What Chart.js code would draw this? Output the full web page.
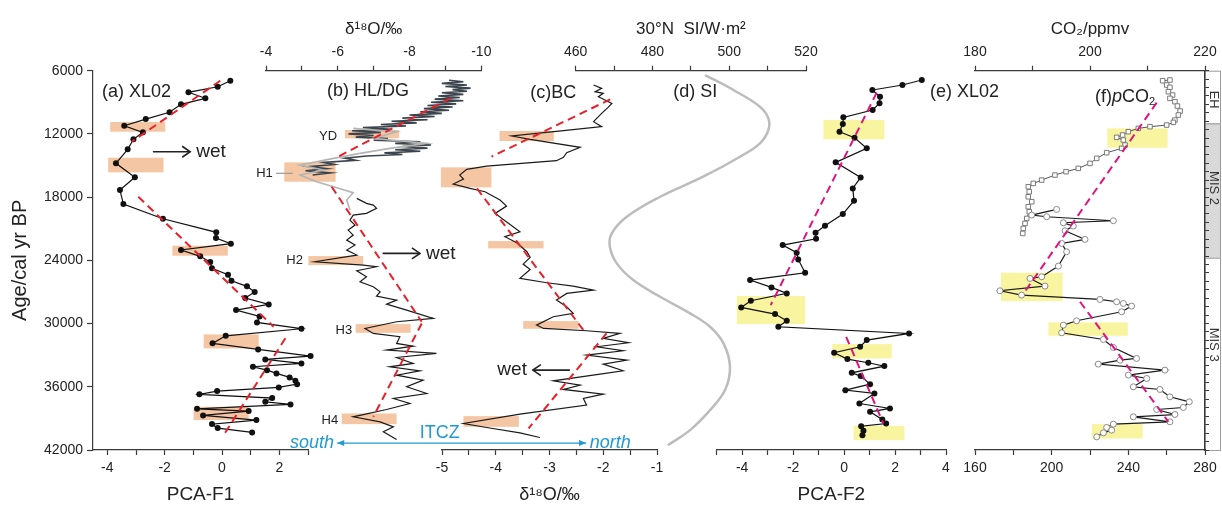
<!DOCTYPE html>
<html>
<head>
<meta charset="utf-8">
<script src="https://cdn.jsdelivr.net/npm/chart.js@4.4.1/dist/chart.umd.min.js"></script>
<style>
body{margin:0;background:#fff}
#wrap{position:relative;width:1222px;height:506px;background:#fff}
#wrap canvas{position:absolute;left:0;top:0}
</style>
</head>
<body>
<div id="wrap">
<canvas id="pa" width="1222" height="506"></canvas>
<canvas id="pb" width="1222" height="506"></canvas>
<canvas id="pc" width="1222" height="506"></canvas>
<canvas id="pd" width="1222" height="506"></canvas>
<canvas id="pe" width="1222" height="506"></canvas>
<canvas id="pf" width="1222" height="506"></canvas>
</div>
<script>
// ---- age axis (shared) ----
var yTicks = [6000, 12000, 18000, 24000, 30000, 36000, 42000]
var rightTicks = [6000,6800,7600,8400,9200,10000,10800,11600,12400,13200,14000,14800,15600,16400,17200,18000,18800,19600,20400,21200,22000,22800,23600,24400,25200,26000,26800,27600,28400,29200,30000,30800,31600,32400,33200,34000,34800,35600,36400,37200,38000,38800,39600,40400,41200,42000]

// ---- (a) XL02 PCA-F1 ----
var aTicks = [-4, -3, -2, -1, 0, 1, 2, 3]
var aLabels = [-4, -2, 0, 2]
var aAge = [6950,7520,8050,8620,9190,9950,10590,11220,11850,12510,13460,14790,16120,17330,18660,20050,21340,21880,22420,23020,23620,24160,24760,25370,25940,26470,27010,27580,28180,28720,29320,29890,30490,31160,31880,32450,33090,33400,33780,34100,34420,34730,35110,35430,35750,36060,36410,36720,37070,37420,37670,38090,38310,38720,39160,39540,39920,40330]
var aF1 = [0.29,-0.15,-1.17,-0.58,-1.43,-1.83,-2.66,-3.41,-2.76,-3.09,-3.29,-3.70,-3.04,-3.56,-3.44,-2.06,-0.20,-0.21,0.31,-1.43,-0.76,-0.41,-0.35,0.21,0.33,0.87,1.14,0.81,1.63,0.49,1.31,1.22,2.77,0.13,-0.33,1.26,3.09,1.51,2.77,1.08,1.57,1.90,2.36,2.56,2.62,1.98,-0.17,-0.79,1.75,1.51,2.39,-0.87,0.93,-0.66,1.20,-0.35,-0.15,1.05]
var aTrendX = [[-0.06, -3.15], [-2.92, 1.80], [2.21, 0.08]]
var aTrendAge = [[6950, 12740], [17960, 30300], [31400, 40490]]
var aBoxX = [[-3.90, -1.98], [-3.97, -2.04], [-1.73, 0.20], [-0.64, 1.28], [-0.99, 0.93]]
var aBoxAge = [[10870, 11790], [14260, 15650], [22610, 23560], [31030, 32360], [37900, 39160]]

// ---- (b) HL/DG d18O ----
var bTicks = [-4, -5, -6, -7, -8, -9, -10]
var bLabels = [-4, -6, -8, -10]
var bHLAge = [6900,7050,7200,7350,7500,7650,7800,7950,8100,8250,8400,8550,8700,8850,9000,9150,9300,9450,9600,9750,9900,10050,10200,10350,10500,10650,10800,10950,11100,11250,11400,11550,11700,11850,12000,12150,12300,12450,12600,12750,12900,13050,13200,13350,13500,13650,13800,13950,14100,14300,14500,14700,14900,15100,15300,15500,15700,15900]
var bHL = [-9.1,-9.5,-8.9,-9.6,-9.0,-9.7,-9.2,-9.6,-8.9,-9.5,-8.8,-9.4,-8.7,-9.5,-8.6,-9.3,-8.5,-9.2,-8.4,-9.1,-8.3,-8.9,-8.0,-8.7,-7.8,-8.5,-7.5,-8.2,-7.2,-7.9,-6.7,-7.5,-6.4,-7.2,-6.3,-7.0,-6.5,-7.4,-7.0,-8.3,-7.6,-8.6,-7.8,-8.5,-7.6,-8.3,-7.3,-7.8,-6.8,-6.2,-6.5,-5.6,-5.9,-5.2,-5.7,-5.1,-5.8,-5.3]
var bDGAge = [11473,11790,12423,12898,13372,13847,14322,14955,15430,15905,16537,17012,17582,18278,19227]
var bDG = [-6.43,-7.64,-6.99,-8.48,-7.45,-6.62,-5.88,-4.95,-5.60,-4.95,-5.41,-5.88,-6.43,-6.25,-6.34]
var bBlkAge = [18120,18594,18753,19070,19544,19702,20177,20652,21126,21601,22076,22550,23025,23500,24133,24450,24608,24988,25558,26032,26507,26982,27393,27773,28153,28722,29514,29830,30463,30938,31254,31887,32140,32520,32837,33217,33786,34103,34483,34894,35369,36002,36635,37110,37585,38154,38850,39325,39800,40275,41003]
var bBlk = [-6.53,-6.80,-6.99,-7.08,-6.80,-6.43,-6.34,-6.48,-6.29,-6.43,-6.25,-6.48,-6.25,-6.53,-5.36,-6.71,-7.08,-6.53,-6.80,-6.62,-6.99,-7.18,-7.08,-7.64,-7.36,-7.92,-8.66,-7.64,-6.76,-6.99,-7.73,-7.64,-8.10,-7.36,-8.75,-7.64,-8.10,-7.45,-8.29,-7.64,-8.38,-7.92,-8.48,-7.55,-8.01,-7.36,-6.43,-7.18,-7.55,-7.27,-7.64]
var bTrendX = [[-9.13, -6.01], [-5.83, -8.34], [-8.34, -6.99]]
var bTrendAge = [[8625, 14164], [17012, 29830], [29988, 38850]]
var bBoxX = [[-6.20, -7.71], [-4.51, -5.94], [-5.18, -6.71], [-6.50, -8.03], [-6.11, -7.64]]
var bBoxAge = [[11632, 12423], [14702, 16537], [23595, 24450], [30052, 30875], [38534, 39547]]

// ---- (c) BC d18O ----
var cTicks = [-5, -4.5, -4, -3.5, -3, -2.5, -2, -1.5, -1]
var cLabels = [-5, -4, -3, -2, -1]
var cAge = [7358,7674,7991,8149,8466,9099,9478,10048,10839,11314,11694,12200,12517,13276,13783,14226,14542,15049,15365,15903,16283,16758,17169,17486,18277,18847,19543,20113,21284,21759,22329,23183,23721,24354,24860,25715,26126,26443,26823,27139,27772,28405,29038,29355,30146,30462,30684,30937,31412,31823,32203,32583,32995,33469,33849,34482,34798,35431,35843,36254,36697,37109,37742,38596,39483,39863,40369,40812]
var cBC = [-2.18,-2.03,-2.15,-2.00,-2.09,-1.84,-1.91,-2.03,-2.18,-2.03,-2.74,-3.70,-3.36,-2.43,-2.68,-2.74,-2.87,-4.17,-4.54,-4.67,-4.60,-4.79,-4.48,-4.20,-3.92,-3.80,-4.01,-3.86,-3.55,-3.83,-3.61,-3.42,-3.36,-3.49,-3.36,-3.55,-3.05,-2.56,-2.18,-2.68,-2.87,-2.68,-2.56,-2.93,-3.24,-3.11,-2.31,-1.69,-2.00,-1.53,-2.12,-1.63,-2.31,-1.56,-2.00,-1.63,-2.06,-2.93,-2.43,-2.74,-2.00,-2.37,-2.31,-3.55,-4.60,-4.17,-3.55,-3.18]
var cTrendX = [[-1.87, -4.08], [-4.35, -2.37], [-1.94, -3.39]]
var cTrendAge = [[8719, 14163], [17169, 30621], [30937, 39958]]
var cBoxX = [[-3.93, -2.92], [-5.02, -4.08], [-4.14, -3.11], [-3.49, -2.46], [-4.60, -3.57]]
var cBoxAge = [[11725, 12675], [15175, 17074], [22170, 22866], [29766, 30494], [38786, 39799]]

// ---- (d) 30N summer insolation ----
var dTicks = [460, 470, 480, 490, 500, 510, 520]
var dLabels = [460, 480, 500, 520]
var dAge = [6412,7832,9418,10519,11630,12893,14165,16064,17963,19862,21437,22709,24285,25871,27456,29035,30307,31883,34098,36314,38213,40112,41550]
var dSI = [493.7,501.1,508.0,510.2,510.2,508.0,502.8,493.2,482.0,473.3,469.4,468.9,470.7,475.0,482.0,489.8,495.0,498.5,500.2,498.9,495.0,489.8,484.0]

// ---- (e) XL02 PCA-F2 ----
var eTicks = [-5, -4, -3, -2, -1, 0, 1, 2, 3, 4]
var eLabels = [-4, -2, 0, 2, 4]
var eAge = [6883,7358,7833,8466,9099,9731,10428,11061,11789,12358,13371,14701,16125,17169,18340,19606,20714,21379,21948,22550,23278,23911,25176,25873,26569,27139,27835,28468,29101,29734,30304,30937,31570,32203,32773,33374,33722,34039,34672,34988,35748,36318,36634,37584,38058,38375,39103,39483,39736,40179,40590]
var eF2 = [3.05,2.29,1.11,1.41,1.39,1.12,-0.03,-0.05,-0.18,0.41,0.89,-0.33,0.65,0.34,0.39,-0.05,-0.75,-1.12,-1.10,-2.41,-1.86,-1.80,-1.53,-3.69,-2.85,-2.25,-3.66,-4.04,-2.71,-2.25,-2.58,2.55,0.89,0.63,-0.39,0.13,0.95,1.58,0.30,0.65,1.02,0.05,1.19,0.60,1.80,1.02,1.50,1.65,0.67,0.76,0.72]
var eTrendX = [[1.28, -2.88], [0.08, 1.54]]
var eTrendAge = [[8086, 28247], [31254, 39483]]
var eBoxX = [[-0.81, 1.58], [-4.21, -1.53], [-0.46, 1.87], [0.37, 2.37]]
var eBoxAge = [[10681, 12517], [27392, 30050], [31950, 33311], [39704, 41065]]

// ---- (f) pCO2 ----
var fTicks = [160, 180, 200, 220, 240, 260, 280]
var fLabels = [160, 200, 240, 280]
var fTopTicks = [180, 190, 200, 210, 220]
var fTopLabels = [180, 200, 220]
var fIceAge = [6884,6947,7359,7580,7992,8308,8625,8941,9353,9827,10207,10682,10904,11157,11315,11473,11790,12106,12328,12581,13056,13372,13784,14322,14797,15271,15588,15905,16379,16696,17012,17487,17962,18436,18911,19386,20019,20494,20968,21443]
var fIce = [261.7,257.9,260.0,261.7,260.9,263.1,261.7,264.3,265.6,267.0,266.1,264.3,263.5,260.0,251.3,245.2,240.0,237.0,233.9,237.4,238.3,236.5,228.7,223.5,220.0,213.9,207.5,201.7,194.8,190.4,187.8,188.3,187.8,189.6,187.8,188.3,187.0,186.1,185.2,184.9]
var fXLAge = [19164,19702,19861,20240,20430,20747,21190,22013,22392,23184,24545,25558,25716,26444,26887,27298,27710,27932,28090,28343,28881,29735,30147,30875,31508,32268,33312,33470,33850,34420,34894,35211,36002,36255,36952,37426,37964,38154,38629,38850,39325,39547,39864,40117,40370,40750]
var fXL = [202.6,189.6,197.4,232.2,206.1,211.3,207.0,217.4,205.2,207.8,203.5,194.8,188.7,196.5,173.0,184.3,225.2,233.9,237.4,241.7,236.5,213.0,206.1,205.2,227.0,232.2,244.3,235.7,224.3,259.1,240.0,249.6,242.6,256.5,261.7,271.8,268.7,254.8,264.3,242.6,261.7,232.2,228.7,231.3,227.0,223.5]
var fTrendX = [[254.8, 185.6], [214.8, 260.9]]
var fTrendAge = [[9036, 27077], [27932, 39325]]
var fBoxX = [[229.0, 260.5], [173.6, 205.7], [198.3, 239.7], [220.9, 247.5]]
var fBoxAge = [[11473, 13309], [25178, 27868], [29894, 31160], [39547, 40908]]

// MIS column
var misNames = ['EH', 'MIS 2', 'MIS 3']
var misAge = [[6000, 11000], [11000, 23750], [23750, 42000]]
var misMid = [8750, 17140, 32000]

// ---------------------------------------------------------------
var W = 1222, TOP_H = 70.7, BOT_H = 56
var FONT = "'Liberation Sans', Arial, 'DejaVu Sans', sans-serif"
var AXC = '#3a3a3a'
var RED = '#e8202a', MAG = '#e0147f', ORANGE = '#f5c6a3', YELLOW = '#f9f49f', BLUE = '#1e9ad6'

function labelFn(list){
    return function(v){ return list.indexOf(v) >= 0 ? String(v) : '' }
}

function hAxis(pos, min, max, ticks, labels, title, reverse, titleSize){
    var show = ticks != null
    return {
        type: 'linear', position: pos, min: min, max: max, reverse: !!reverse,
        border: {display: show, color: AXC, width: 1.2},
        grid: {display: show, drawOnChartArea: false, tickLength: 5, tickColor: AXC, tickWidth: 1.2},
        ticks: {display: show, autoSkip: false, maxRotation: 0, padding: 5, color: '#222',
                font: {family: FONT, size: 14}, callback: labels ? labelFn(labels) : undefined},
        title: {display: !!title, text: title || '', color: '#222',
                font: {family: FONT, size: titleSize || 17},
                padding: pos == 'top' ? {top: 19, bottom: 0} : {top: 0, bottom: 0}},
        afterBuildTicks: function(s){ if (show) s.ticks = ticks.map(function(v){ return {value: v} }) },
        afterFit: function(s){ s.height = pos == 'top' ? TOP_H : BOT_H; s.paddingLeft = 0; s.paddingRight = 0 }
    }
}

function yAxis(show){
    return {
        type: 'linear', position: 'left', min: 6000, max: 42000, reverse: true, display: show,
        border: {color: AXC, width: 1.2},
        grid: {drawOnChartArea: false, tickLength: 6, tickColor: AXC, tickWidth: 1.2},
        ticks: {padding: 4, color: '#222', font: {family: FONT, size: 14}, callback: function(v){ return String(v) }},
        title: {display: true, text: 'Age/cal yr BP', color: '#222', font: {family: FONT, size: 20}, padding: {top: 8, bottom: 0}},
        afterBuildTicks: function(s){ s.ticks = yTicks.map(function(v){ return {value: v} }) },
        afterFit: function(s){ s.width = show ? 93 : 0; s.paddingTop = 0; s.paddingBottom = 0 }
    }
}

function pts(xs, ages){
    return xs.map(function(v, i){ return {x: v, y: ages[i]} })
}

function series(xs, ages, opt){
    var d = {data: pts(xs, ages), showLine: true, borderColor: '#111', borderWidth: 1.2,
             pointRadius: 0, clip: false}
    for (var k in opt) d[k] = opt[k]
    return d
}

function trends(tx, tage, col){
    return tx.map(function(seg, i){
        return series(seg, tage[i], {borderColor: col, borderWidth: 2, borderDash: [8, 5]})
    })
}

// ---- decoration: boxes, arrows, labels ----
function fontOf(s, size){
    var sz = (s.sub || s.sup) ? Math.round(size * 0.62) : size
    return (s.italic ? 'italic ' : '') + sz + 'px ' + FONT
}
function rich(c, segs, x, y, align, size, color){
    var w = 0
    segs.forEach(function(s){ c.font = fontOf(s, size); w += c.measureText(s.t).width })
    var cx = align == 'right' ? x - w : (align == 'center' ? x - w / 2 : x)
    c.fillStyle = color || '#222'
    c.textAlign = 'left'; c.textBaseline = 'middle'
    segs.forEach(function(s){
        c.font = fontOf(s, size)
        var dy = s.sub ? size * 0.3 : (s.sup ? -size * 0.35 : 0)
        c.fillText(s.t, cx, y + dy)
        cx += c.measureText(s.t).width
    })
}
function arrow(c, x1, y, x2, col, lw, kind){
    c.strokeStyle = col; c.fillStyle = col; c.lineWidth = lw
    c.beginPath(); c.moveTo(x1, y); c.lineTo(x2, y); c.stroke()
    var dir = x2 > x1 ? 1 : -1
    if (kind == 'open'){
        c.beginPath(); c.moveTo(x2 - dir * 8, y - 5.5); c.lineTo(x2, y); c.lineTo(x2 - dir * 8, y + 5.5); c.stroke()
    } else {
        [[x2, dir], [x1, -dir]].forEach(function(p){
            c.beginPath(); c.moveTo(p[0], y); c.lineTo(p[0] - p[1] * 7, y - 3); c.lineTo(p[0] - p[1] * 7, y + 3); c.closePath(); c.fill()
        })
    }
}

function decoPlugin(d){
    return {
        id: 'deco',
        beforeDraw: function(chart){
            if (!d.mis) return
            var c = chart.ctx, ys = chart.scales.y, x0 = chart.chartArea.right, w = 16
            c.save()
            misAge.forEach(function(r, i){
                var y1 = ys.getPixelForValue(r[0]), y2 = ys.getPixelForValue(r[1])
                c.fillStyle = i == 1 ? '#d9d9d9' : '#fff'
                c.fillRect(x0, y1, w, y2 - y1)
                c.strokeStyle = '#9a9a9a'; c.lineWidth = 1
                c.strokeRect(x0 + 0.5, y1 + 0.5, w - 1, y2 - y1)
                c.save()
                c.translate(x0 + w / 2 + 0.5, ys.getPixelForValue(misMid[i]))
                c.rotate(Math.PI / 2)
                c.fillStyle = '#333'; c.font = '13px ' + FONT
                c.textAlign = 'center'; c.textBaseline = 'middle'
                c.fillText(misNames[i], 0, 0)
                c.restore()
            })
            c.restore()
        },
        beforeDatasetsDraw: function(chart){
            var c = chart.ctx, xs = chart.scales.x, ys = chart.scales.y
            c.save()
            c.fillStyle = d.boxColor
            ;(d.boxX || []).forEach(function(b, i){
                var x1 = xs.getPixelForValue(b[0]), x2 = xs.getPixelForValue(b[1])
                var y1 = ys.getPixelForValue(d.boxAge[i][0]), y2 = ys.getPixelForValue(d.boxAge[i][1])
                c.fillRect(Math.min(x1, x2), Math.min(y1, y2), Math.abs(x2 - x1), Math.abs(y2 - y1))
            })
            c.restore()
        },
        afterDatasetsDraw: function(chart){
            var c = chart.ctx, xs = chart.scales.x, ys = chart.scales.y
            c.save()
            ;(d.lines || []).forEach(function(l){
                var y = ys.getPixelForValue(l.age)
                c.strokeStyle = l.color; c.lineWidth = 1.2
                c.beginPath(); c.moveTo(xs.getPixelForValue(l.x1), y); c.lineTo(xs.getPixelForValue(l.x2), y); c.stroke()
            })
            ;(d.arrows || []).forEach(function(a){
                arrow(c, xs.getPixelForValue(a.x1), ys.getPixelForValue(a.age), xs.getPixelForValue(a.x2),
                      a.color || '#222', a.width || 1.6, a.kind || 'open')
            })
            ;(d.notes || []).forEach(function(n){
                rich(c, n.segs, xs.getPixelForValue(n.x), ys.getPixelForValue(n.age), n.align || 'left', n.size || 18, n.color)
            })
            c.restore()
        }
    }
}

function panel(id, left, right, scales, datasets, deco){
    return new Chart(document.getElementById(id), {
        type: 'scatter',
        data: {datasets: datasets},
        options: {
            responsive: false, animation: false, devicePixelRatio: 1, events: [],
            layout: {autoPadding: false, padding: {left: left, right: W - right, top: 0, bottom: 0}},
            plugins: {legend: {display: false}, tooltip: {enabled: false}},
            scales: scales
        },
        plugins: [decoPlugin(deco)]
    })
}

var dots = {pointRadius: 3, pointBackgroundColor: '#111', pointBorderWidth: 0}

// (a)
panel('pa', 0, 308, {
    x: hAxis('bottom', -4.5, 3, aTicks, aLabels, 'PCA-F1', false, 19),
    x2: hAxis('top', 0, 1, null),
    y: yAxis(true)
}, trends(aTrendX, aTrendAge, RED).concat([series(aF1, aAge, dots)]), {
    boxColor: ORANGE, boxX: aBoxX, boxAge: aBoxAge,
    arrows: [{x1: -2.41, x2: -1.11, age: 13690}],
    notes: [
        {segs: [{t: '(a) XL02'}], x: -4.19, age: 8050, size: 18},
        {segs: [{t: 'wet'}], x: -0.90, age: 13690, size: 19}
    ]
})

// (b)
panel('pb', 266, 481.3, {
    x: hAxis('top', -10, -4, bTicks, bLabels, 'δ¹⁸O/‰', true),
    x2: hAxis('bottom', 0, 1, null),
    y: yAxis(false)
}, trends(bTrendX, bTrendAge, RED).concat([
    series(bBlk, bBlkAge, {borderColor: '#1a1a1a', borderWidth: 1.2}),
    series(bDG, bDGAge, {borderColor: '#b4b4b4', borderWidth: 1.6}),
    series(bHL, bHLAge, {borderColor: '#3b444c', borderWidth: 1.6})
]), {
    boxColor: ORANGE, boxX: bBoxX, boxAge: bBoxAge,
    lines: [{x1: -4.28, x2: -4.75, age: 15740, color: '#9a9a9a'}],
    arrows: [{x1: -7.25, x2: -8.29, age: 23340}],
    notes: [
        {segs: [{t: '(b) HL/DG'}], x: -5.70, age: 7900, size: 18},
        {segs: [{t: 'YD'}], x: -5.98, age: 12200, size: 13, align: 'right'},
        {segs: [{t: 'H1'}], x: -4.19, age: 15740, size: 13, align: 'right'},
        {segs: [{t: 'H2'}], x: -5.03, age: 23970, size: 13, align: 'right'},
        {segs: [{t: 'H3'}], x: -6.40, age: 30624, size: 13, align: 'right'},
        {segs: [{t: 'H4'}], x: -6.01, age: 39228, size: 13, align: 'right'},
        {segs: [{t: 'wet'}], x: -8.46, age: 23340, size: 19}
    ]
})

// (c)
panel('pc', 442, 657, {
    x: hAxis('bottom', -5, -1, cTicks, cLabels, 'δ¹⁸O/‰', false, 18),
    x2: hAxis('top', 0, 1, null),
    y: yAxis(false)
}, trends(cTrendX, cTrendAge, RED).concat([series(cBC, cAge, {borderColor: '#1a1a1a', borderWidth: 1.2})]), {
    boxColor: ORANGE, boxX: cBoxX, boxAge: cBoxAge,
    arrows: [
        {x1: -2.62, x2: -3.31, age: 34416},
        {x1: -6.95, x2: -2.32, age: 41346, color: BLUE, width: 1.3, kind: 'double'}
    ],
    notes: [
        {segs: [{t: '(c)BC'}], x: -3.36, age: 8146, size: 18},
        {segs: [{t: 'wet'}], x: -3.42, age: 34416, size: 19, align: 'right'},
        {segs: [{t: 'ITCZ'}], x: -5.04, age: 40397, size: 18, align: 'center', color: BLUE},
        {segs: [{t: 'south', italic: true}], x: -7.01, age: 41346, size: 18, align: 'right', color: BLUE},
        {segs: [{t: 'north', italic: true}], x: -2.25, age: 41346, size: 18, color: BLUE}
    ]
})

// (d)
panel('pd', 575.7, 806, {
    x: hAxis('top', 460, 520, dTicks, dLabels, '30°N  SI/W·m²'),
    x2: hAxis('bottom', 0, 1, null),
    y: yAxis(false)
}, [series(dSI, dAge, {borderColor: '#bcbcbc', borderWidth: 2.5, tension: 0.4})], {
    notes: [{segs: [{t: '(d) SI'}], x: 485.4, age: 7994, size: 18}]
})

// (e)
panel('pe', 716.7, 946, {
    x: hAxis('bottom', -5, 4, eTicks, eLabels, 'PCA-F2', false, 19),
    x2: hAxis('top', 0, 1, null),
    y: yAxis(false)
}, trends(eTrendX, eTrendAge, MAG).concat([series(eF2, eAge, dots)]), {
    boxColor: YELLOW, boxX: eBoxX, boxAge: eBoxAge,
    notes: [{segs: [{t: '(e) XL02'}], x: 3.37, age: 8022, size: 18}]
})

// (f)
var fy2 = {
    type: 'linear', position: 'right', min: 6000, max: 42000, reverse: true,
    border: {color: AXC, width: 1.2},
    grid: {drawOnChartArea: false, tickLength: 4, tickColor: AXC, tickWidth: 1},
    ticks: {display: false},
    afterBuildTicks: function(s){ s.ticks = rightTicks.map(function(v){ return {value: v} }) },
    afterFit: function(s){ s.width = 0; s.paddingTop = 0; s.paddingBottom = 0 }
}
panel('pf', 975, 1205, {
    x: hAxis('bottom', 160, 280, fTicks, fLabels, null),
    x2: hAxis('top', 180, 220, fTopTicks, fTopLabels, 'CO₂/ppmv', false, 17),
    y: yAxis(false),
    y2: fy2
}, trends(fTrendX, fTrendAge, MAG).concat([
    series(fXL, fXLAge, {borderColor: '#1a1a1a', borderWidth: 1.2, pointRadius: 3, pointStyle: 'circle',
                         pointBackgroundColor: '#fff', pointBorderColor: '#8a8a8a', pointBorderWidth: 1}),
    series(fIce, fIceAge, {borderColor: '#555', borderWidth: 1, pointRadius: 3.2, pointStyle: 'rect',
                           pointBackgroundColor: '#fff', pointBorderColor: '#7a7a7a', pointBorderWidth: 1})
]), {
    mis: true,
    boxColor: YELLOW, boxX: fBoxX, boxAge: fBoxAge,
    notes: [{segs: [{t: '(f)'}, {t: 'p', italic: true}, {t: 'CO'}, {t: '2', sub: true}], x: 222.6, age: 8468, size: 18}]
})
</script>
</body>
</html>
